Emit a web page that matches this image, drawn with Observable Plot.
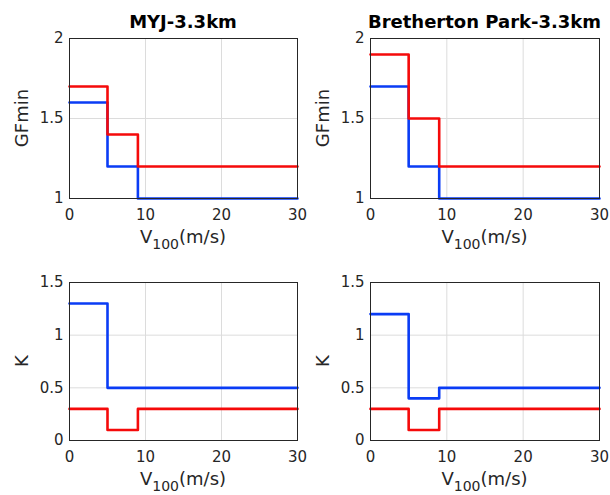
<!DOCTYPE html>
<html>
<head>
<meta charset="utf-8">
<script src="https://cdn.jsdelivr.net/npm/d3@7"></script>
<script src="https://cdn.jsdelivr.net/npm/@observablehq/plot@0.6"></script>
<style>
  html, body { margin: 0; padding: 0; background: #fff; }
  #chart { position: relative; width: 610px; height: 495px; font-family: "DejaVu Sans", sans-serif; overflow: hidden; }
</style>
</head>
<body>
<div id="chart"></div>
<script>
// ---- data ----
const vSteps = [0, 5, 9, 30];               // V100 (m/s) step edges
const xTicks = [0, 10, 20, 30];
const gfTicks = [1, 1.5, 2];
const kTicks = [0, 0.5, 1, 1.5];

const titles = ["MYJ-3.3km", "Bretherton Park-3.3km"];

const gfMyjBlue = [1.6, 1.2, 1.0, 1.0];
const gfMyjRed  = [1.7, 1.4, 1.2, 1.2];
const gfBpBlue  = [1.7, 1.2, 1.0, 1.0];
const gfBpRed   = [1.9, 1.5, 1.2, 1.2];

const kMyjBlue = [1.3, 0.5, 0.5, 0.5];
const kMyjRed  = [0.3, 0.1, 0.3, 0.3];
const kBpBlue  = [1.2, 0.4, 0.5, 0.5];
const kBpRed   = [0.3, 0.1, 0.3, 0.3];

const seriesColors = { blue: "#0a3cf5", red: "#f50a0a" };

function toRows(vals, series) {
  return vSteps.map((v, i) => ({ v, val: vals[i], series }));
}

const panels = [
  { left: 0,   top: 0,   w: 305, h: 250, ml: 69, mr: 8,  mt: 38, mb: 52, yDom: [1, 2],   yTicks: gfTicks, ylab: "GFmin", title: titles[0], blue: gfMyjBlue, red: gfMyjRed },
  { left: 305, top: 0,   w: 305, h: 250, ml: 65, mr: 11, mt: 38, mb: 52, yDom: [1, 2],   yTicks: gfTicks, ylab: "GFmin", title: titles[1], blue: gfBpBlue,  red: gfBpRed },
  { left: 0,   top: 250, w: 305, h: 245, ml: 69, mr: 8,  mt: 32, mb: 55, yDom: [0, 1.5], yTicks: kTicks,  ylab: "K",     title: null,      blue: kMyjBlue,  red: kMyjRed },
  { left: 305, top: 250, w: 305, h: 245, ml: 65, mr: 11, mt: 32, mb: 55, yDom: [0, 1.5], yTicks: kTicks,  ylab: "K",     title: null,      blue: kBpBlue,   red: kBpRed }
];

const chart = document.getElementById("chart");
const textColor = "#262626";

panels.forEach(p => {
  const blueRows = toRows(p.blue, "blue");
  const redRows = toRows(p.red, "red");
  const svg = Plot.plot({
    width: p.w,
    height: p.h,
    marginLeft: p.ml,
    marginRight: p.mr,
    marginTop: p.mt,
    marginBottom: p.mb,
    style: { fontFamily: "DejaVu Sans, sans-serif", color: textColor, background: "transparent", overflow: "visible" },
    x: { domain: [0, 30] },
    y: { domain: p.yDom },
    marks: [
      Plot.gridX(xTicks, { stroke: "#dcdcdc", strokeOpacity: 1, strokeWidth: 1 }),
      Plot.gridY(p.yTicks, { stroke: "#dcdcdc", strokeOpacity: 1, strokeWidth: 1 }),
      Plot.axisX(xTicks, { tickSize: 0, tickPadding: 11, fontSize: 15, label: null, tickFormat: d => String(d) }),
      Plot.axisY(p.yTicks, { tickSize: 0, tickPadding: 6, fontSize: 15, label: null, tickFormat: d => String(d) }),
      Plot.line(blueRows, { x: "v", y: "val", curve: "step-after", stroke: seriesColors.blue, strokeWidth: 2.6 }),
      Plot.line(redRows,  { x: "v", y: "val", curve: "step-after", stroke: seriesColors.red,  strokeWidth: 2.6 }),
      Plot.frame({ stroke: "#262626", strokeWidth: 1 })
    ]
  });
  svg.style.position = "absolute";
  svg.style.left = p.left + "px";
  svg.style.top = p.top + "px";
  chart.appendChild(svg);

  const s = d3.select(svg);
  const cx = p.ml + (p.w - p.ml - p.mr) / 2;
  const cy = p.mt + (p.h - p.mt - p.mb) / 2;
  if (p.title) {
    s.append("text")
      .attr("x", cx).attr("y", 28)
      .attr("text-anchor", "middle")
      .attr("font-weight", "bold")
      .attr("font-size", 18)
      .attr("fill", "#000")
      .text(p.title);
  }
  s.append("text")
    .attr("transform", `translate(${p.ml - 41},${cy}) rotate(-90)`)
    .attr("text-anchor", "middle")
    .attr("font-size", 18)
    .attr("fill", textColor)
    .text(p.ylab);
  const xl = s.append("text")
    .attr("x", cx).attr("y", p.h - p.mb + 45)
    .attr("text-anchor", "middle")
    .attr("font-size", 18)
    .attr("fill", textColor);
  xl.append("tspan").text("V");
  xl.append("tspan").attr("font-size", 14).attr("dy", 6).text("100");
  xl.append("tspan").attr("dy", -6).text("(m/s)");
});
</script>
</body>
</html>
